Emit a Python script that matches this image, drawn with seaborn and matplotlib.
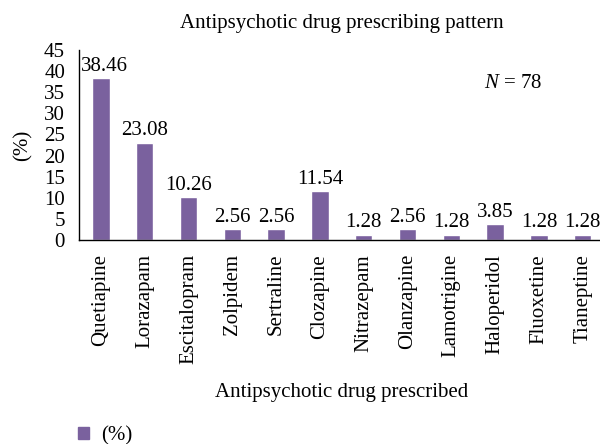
import numpy as np
import pandas as pd
import seaborn as sns
import matplotlib.pyplot as plt
from matplotlib.patches import Patch
from matplotlib.ticker import FixedLocator

drugs = ['Quetiapine', 'Lorazapam', 'Escitalopram', 'Zolpidem', 'Sertraline',
         'Clozapine', 'Nitrazepam', 'Olanzapine', 'Lamotrigine', 'Haloperidol',
         'Fluoxetine', 'Tianeptine']
percent = [38.46, 23.08, 10.26, 2.56, 2.56, 11.54, 1.28, 2.56, 1.28, 3.85, 1.28, 1.28]
yticks = [0, 5, 10, 15, 20, 25, 30, 35, 40, 45]

bar_color = '#7a619e'
fs = 15

sns.set_style('white')
plt.rcParams['font.family'] = ['Liberation Serif', 'DejaVu Serif']
plt.rcParams['font.size'] = fs
plt.rcParams['mathtext.fontset'] = 'custom'
plt.rcParams['mathtext.it'] = 'Liberation Serif:italic'
plt.rcParams['mathtext.rm'] = 'Liberation Serif'
for key in ['text.color', 'axes.labelcolor', 'xtick.color', 'ytick.color']:
    plt.rcParams[key] = 'black'

df = pd.DataFrame({'drug': drugs, 'pct': percent})

fig = plt.figure(figsize=(6, 4.44), dpi=100)
ax = fig.add_axes([79 / 600, 204 / 444, 525.6 / 600, 190 / 444])
sns.barplot(data=df, x='drug', y='pct', color=bar_color, width=0.4,
            saturation=1, ax=ax)

for i, v in enumerate(percent):
    # first label sits a bit right of its bar, clear of the axis
    dx = 0.08 if i == 0 else 0
    ax.text(i + dx, v + 0.5, '%.2f' % v, ha='center', va='bottom', fontsize=fs)

ax.set_xlim(-0.5, len(drugs) - 0.5)
ax.set_ylim(0, 45)
ax.set_yticks(yticks)
ax.tick_params(axis='y', direction='out', length=4, width=1, pad=6, labelsize=fs)
ax.tick_params(axis='x', which='major', length=0, pad=10, labelsize=fs, labelrotation=90)
ax.xaxis.set_minor_locator(FixedLocator(np.arange(-0.5, len(drugs), 1.0)))
ax.tick_params(axis='x', which='minor', direction='out', length=4, width=1)

for s in ['top', 'right']:
    ax.spines[s].set_visible(False)
for s in ['left', 'bottom']:
    ax.spines[s].set_color('black')
    ax.spines[s].set_linewidth(1)

ax.set_ylabel('(%)', fontsize=fs, labelpad=8)
ax.set_xlabel('Antipsychotic drug prescribed', fontsize=fs, labelpad=14)
ax.set_title('Antipsychotic drug prescribing pattern', fontsize=fs, pad=16)

ax.text(0.826, 0.826, '$N$ = 78', transform=ax.transAxes, ha='center',
        va='center', fontsize=fs)

fig.legend(handles=[Patch(color=bar_color, label='(%)')], loc='lower left',
           bbox_to_anchor=(0.098, -0.045), frameon=False, fontsize=fs,
           handlelength=0.55, handleheight=0.55, handletextpad=0.57)

fig.savefig('out.png', dpi=100)
